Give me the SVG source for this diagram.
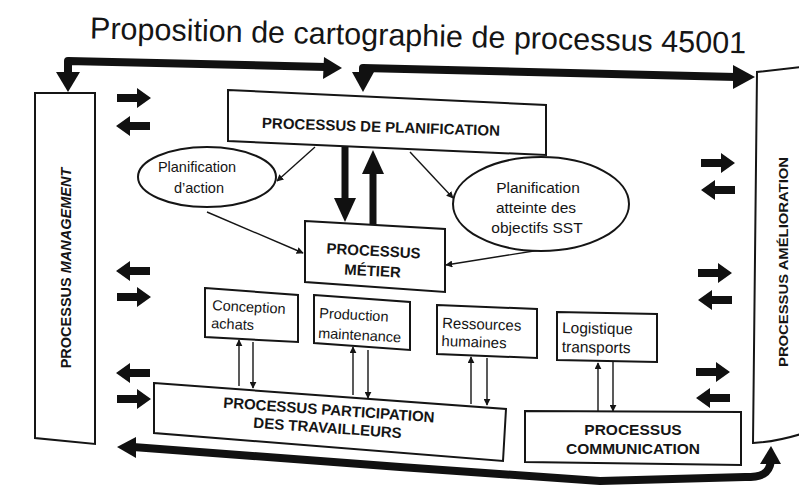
<svg xmlns="http://www.w3.org/2000/svg" xmlns:xlink="http://www.w3.org/1999/xlink" width="799" height="502" viewBox="0 0 799 502">
  <style>
    .box { fill: #fff; stroke: #151515; stroke-width: 2; }
    .link { fill: none; stroke: #151515; stroke-width: 1.4; }
    .bar { fill: none; stroke: #111; stroke-width: 8; stroke-linejoin: round; }
    .head { fill: #111; }
    .t { font-family: "Liberation Sans", Arial, sans-serif; fill: #151515; }
    .b { font-weight: bold; }
    .small { font-size: 14.5px; }
    .bold15 { font-size: 15px; font-weight: bold; }
  </style>
  <defs>
    <marker id="tip" viewBox="0 0 10 10" refX="9" refY="5" markerWidth="7" markerHeight="7" markerUnits="userSpaceOnUse" orient="auto">
      <path d="M0,0 L10,5 L0,10 Z" fill="#151515"/>
    </marker>
    <!-- short block arrow, tail at origin, pointing right -->
    <path id="blk" d="M0,-4 L20,-4 L20,-10 L34,0 L20,10 L20,4 L0,4 Z" fill="#111"/>
  </defs>

  <rect width="799" height="502" fill="#fff"/>

  <!-- title -->
  <text class="t" x="418" y="46" font-size="30.5" text-anchor="middle" transform="rotate(1.3 418 40)">Proposition de cartographie de processus 45001</text>

  <!-- connectors -->
  <g id="connectors">
    <!-- top flows -->
    <polyline class="bar" points="68,74 68,61 326,67"/>
    <polygon class="head" points="56,72 80,72 68,92"/>
    <polygon class="head" points="324,57 342,68 323,79"/>
    <polyline class="bar" points="363,74 363,68 736,77"/>
    <polygon class="head" points="352,72 374,72 363,92"/>
    <polygon class="head" points="733,65 755,77 733,89"/>

    <!-- bottom return flow -->
    <path class="bar" d="M771,461 C769,474 762,477 745,477 L600,481 L400,467 L133,447"/>
    <polygon class="head" points="760,464 781,464 771,446"/>
    <polygon class="head" points="136,437 117,447 136,458"/>

    <!-- planification <-> métier -->
    <line x1="345" y1="147" x2="345" y2="200" stroke="#111" stroke-width="7"/>
    <polygon class="head" points="334,198 356,198 345,222"/>
    <line x1="373" y1="225" x2="373" y2="172" stroke="#111" stroke-width="7"/>
    <polygon class="head" points="362,174 384,174 373,150"/>

    <!-- planification to ellipses, ellipses to métier -->
    <line class="link" x1="315" y1="147" x2="277" y2="181" marker-end="url(#tip)"/>
    <line class="link" x1="410" y1="152" x2="453" y2="198" marker-end="url(#tip)"/>
    <line class="link" x1="207" y1="212" x2="303" y2="253" marker-end="url(#tip)"/>
    <line class="link" x1="540" y1="250" x2="446" y2="265" marker-end="url(#tip)"/>

    <!-- support processes <-> participation / communication -->
    <line class="link" x1="239" y1="386" x2="239" y2="340" marker-end="url(#tip)"/>
    <line class="link" x1="253" y1="342" x2="253" y2="388" marker-end="url(#tip)"/>
    <line class="link" x1="353" y1="395" x2="353" y2="347" marker-end="url(#tip)"/>
    <line class="link" x1="368" y1="350" x2="368" y2="398" marker-end="url(#tip)"/>
    <line class="link" x1="471" y1="404" x2="471" y2="357" marker-end="url(#tip)"/>
    <line class="link" x1="487" y1="358" x2="487" y2="405" marker-end="url(#tip)"/>
    <line class="link" x1="598" y1="412" x2="598" y2="363" marker-end="url(#tip)"/>
    <line class="link" x1="613" y1="362" x2="613" y2="411" marker-end="url(#tip)"/>

    <!-- exchanges with management -->
    <use xlink:href="#blk" transform="translate(117,98)"/>
    <use xlink:href="#blk" transform="translate(150,126) scale(-1,1)"/>
    <use xlink:href="#blk" transform="translate(150,271) scale(-1,1)"/>
    <use xlink:href="#blk" transform="translate(117,297)"/>
    <use xlink:href="#blk" transform="translate(150,373) scale(-1,1)"/>
    <use xlink:href="#blk" transform="translate(117,399)"/>

    <!-- exchanges with amélioration -->
    <use xlink:href="#blk" transform="translate(701,163)"/>
    <use xlink:href="#blk" transform="translate(735,190) scale(-1,1)"/>
    <use xlink:href="#blk" transform="translate(698,273)"/>
    <use xlink:href="#blk" transform="translate(732,300) scale(-1,1)"/>
    <use xlink:href="#blk" transform="translate(696,372)"/>
    <use xlink:href="#blk" transform="translate(730,398) scale(-1,1)"/>
  </g>

  <!-- management -->
  <g id="management">
    <polygon class="box" points="35,93 95,93 95,444 35,438"/>
    <text class="t b" font-size="14.5" transform="translate(71,268) rotate(-90)" text-anchor="middle">PROCESSUS <tspan font-style="italic">MANAGEMENT</tspan></text>
  </g>

  <!-- amélioration -->
  <g id="amelioration">
    <path class="box" d="M801,67 L757,72 L753,443 C770,442 785,439 801,434"/>
    <text class="t b" font-size="13" transform="translate(788,262) rotate(-90)" text-anchor="middle" textLength="210" lengthAdjust="spacingAndGlyphs">PROCESSUS AMÉLIORATION</text>
  </g>

  <!-- planification -->
  <g id="planification">
    <polygon class="box" points="228,90 546,105 546,155 228,141"/>
    <text class="t bold15" x="381" y="132" text-anchor="middle" transform="rotate(1.9 381 126)">PROCESSUS DE PLANIFICATION</text>
  </g>

  <!-- planification d'action -->
  <g id="plan-action">
    <ellipse class="box" cx="207" cy="177" rx="69" ry="30"/>
    <text class="t" font-size="14.5" text-anchor="middle"><tspan x="197" y="172">Planification</tspan><tspan x="199" y="193">d’action</tspan></text>
  </g>

  <!-- planification objectifs -->
  <g id="plan-objectifs">
    <ellipse class="box" cx="541" cy="204" rx="88" ry="47"/>
    <text class="t" font-size="15.5" text-anchor="middle"><tspan x="538" y="193">Planification</tspan><tspan x="536" y="213">atteinte des</tspan><tspan x="537" y="233">objectifs SST</tspan></text>
  </g>

  <!-- métier -->
  <g id="metier">
    <polygon class="box" points="305,221 445,229 445,292 305,282"/>
    <text class="t b" font-size="15" text-anchor="middle" transform="rotate(3 373 262)"><tspan x="373" y="256">PROCESSUS</tspan><tspan x="373" y="276">MÉTIER</tspan></text>
  </g>

  <!-- conception achats -->
  <g id="conception">
    <polygon class="box" points="205,288 298,295 298,342 205,337"/>
    <text class="t small" transform="rotate(3 212 310)"><tspan x="212" y="310">Conception</tspan><tspan x="212" y="328">achats</tspan></text>
  </g>

  <!-- production maintenance -->
  <g id="production">
    <polygon class="box" points="314,295 410,302 410,350 314,343"/>
    <text class="t small" transform="rotate(3 319 318)"><tspan x="319" y="318">Production</tspan><tspan x="319" y="338">maintenance</tspan></text>
  </g>

  <!-- ressources humaines -->
  <g id="ressources">
    <polygon class="box" points="437,305 537,309 537,358 437,354"/>
    <text class="t" font-size="15" transform="rotate(2 442 328)"><tspan x="442" y="328">Ressources</tspan><tspan x="442" y="346">humaines</tspan></text>
  </g>

  <!-- logistique transports -->
  <g id="logistique">
    <polygon class="box" points="557,312 657,314 657,362 557,360"/>
    <text class="t" font-size="15.5" transform="rotate(1 562 333)"><tspan x="562" y="333">Logistique</tspan><tspan x="562" y="352">transports</tspan></text>
  </g>

  <!-- participation -->
  <g id="participation">
    <polygon class="box" points="154,383 506,409 503,461 154,433"/>
    <text class="t bold15" text-anchor="middle" transform="rotate(4 328 422)"><tspan x="328" y="415">PROCESSUS PARTICIPATION</tspan><tspan x="328" y="433">DES TRAVAILLEURS</tspan></text>
  </g>

  <!-- communication -->
  <g id="communication">
    <polygon class="box" points="525,411 741,412 741,465 525,462"/>
    <text class="t b" font-size="15.5" text-anchor="middle"><tspan x="633" y="435">PROCESSUS</tspan><tspan x="633" y="454">COMMUNICATION</tspan></text>
  </g>
</svg>
